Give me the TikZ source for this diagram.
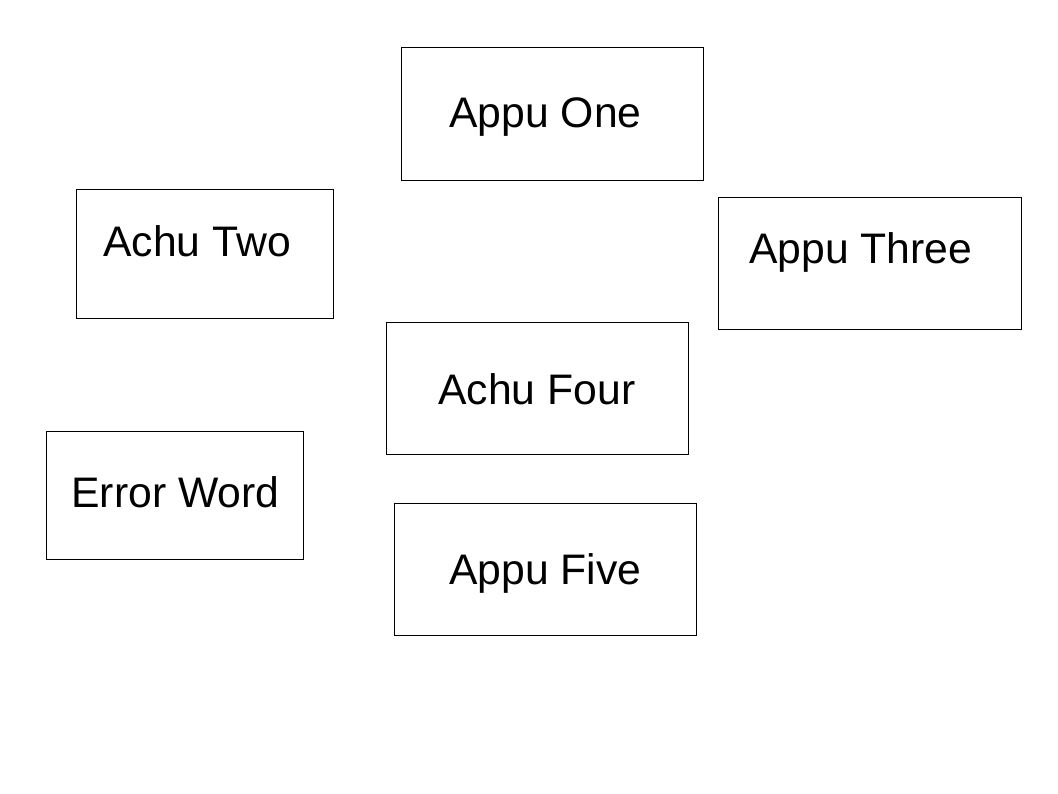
\documentclass[tikz,border=0pt]{standalone}
\usepackage{fontspec}
\setmainfont{Liberation Sans}
\usetikzlibrary{positioning}

\tikzset{
  word/.style = {anchor=base west, inner sep=0pt, font=\fontsize{24.3pt}{28pt}\selectfont},
  frame/.style = {draw, line width=0.5pt}
}

\begin{document}
\begin{tikzpicture}[x=0.02cm, y=-0.02cm]
      \useasboundingbox (0,0) rectangle (1058,794);

      % boxes
      \draw[frame] (401,47) rectangle ++(302,133);
      \draw[frame] (76,189) rectangle ++(257,129);
      \draw[frame] (718,197) rectangle ++(303,132);
      \draw[frame] (386,322) rectangle ++(302,132);
      \draw[frame] (46,431) rectangle ++(257,128);
      \draw[frame] (394,503) rectangle ++(302,132);

      % words
      \node[word] (appuOne) at (449,128) {Appu One};
      \node[word] (achuTwo) at (103,256) {Achu Two};
      \node[word] (appuThree) at (749,263) {Appu Three};
      \node[word] (achuFour) at (438,404) {Achu Four};
      \node[word] (errorWord) at (71,507) {Error Word};
      \node[word] (appuFive) at (449,584) {Appu Five};
    \end{tikzpicture}
\end{document}
